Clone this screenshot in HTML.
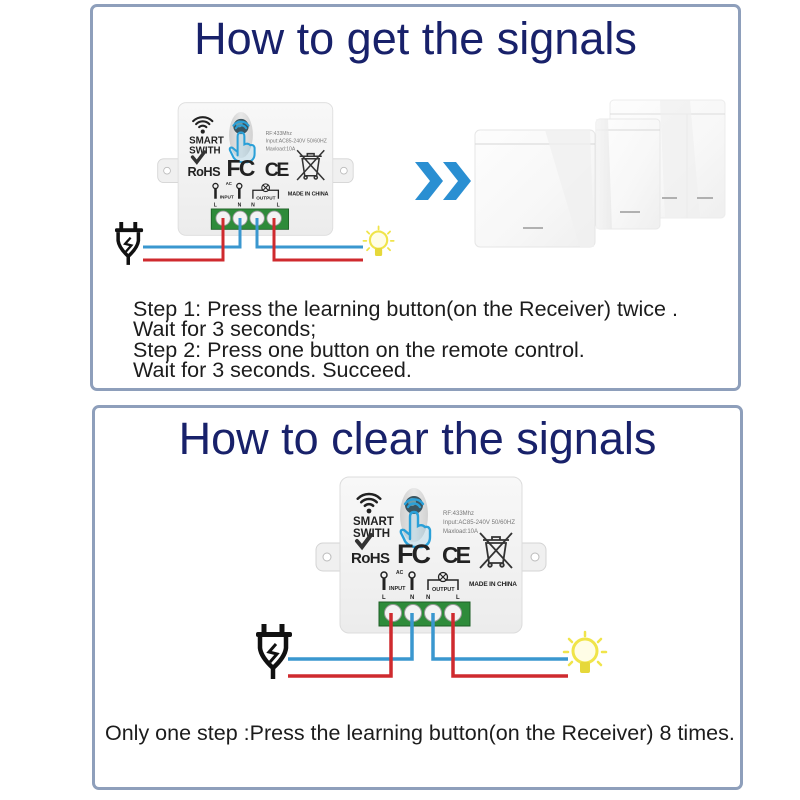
<!DOCTYPE html>
<html>
<head>
<meta charset="utf-8">
<style>
  html,body{margin:0;padding:0;background:#fff;}
  body{width:800px;height:800px;position:relative;overflow:hidden;font-family:"Liberation Sans",Arial,sans-serif;}
  .box{position:absolute;box-sizing:border-box;border:3px solid #8e9fbb;border-radius:7px;background:#fff;}
  .title{position:absolute;text-align:center;font-size:45px;line-height:45px;color:#18216a;white-space:nowrap;}
  .txt{position:absolute;font-size:21.5px;line-height:20.5px;color:#1c1c1c;white-space:nowrap;}
  svg{position:absolute;overflow:visible;}
</style>
</head>
<body>

<div class="box" style="left:90px;top:4px;width:651px;height:387px;"></div>
<div class="box" style="left:92px;top:405px;width:651px;height:385px;"></div>

<div class="title" style="left:90px;top:15.6px;width:651px;">How to get the signals</div>
<div class="title" style="left:92px;top:415.6px;width:651px;">How to clear the signals</div>

<div class="txt" style="left:133px;top:298.6px;">Step 1: Press the learning button(on the Receiver) twice .<br>Wait for 3 seconds;<br>Step 2: Press one button on the remote control.<br>Wait for 3 seconds. Succeed.</div>

<div class="txt" style="left:105px;top:722.6px;">Only one step :Press the learning button(on the Receiver) 8 times.</div>

<!-- Switch panels + chevrons -->
<svg width="800" height="800" style="left:0;top:0;">
  <defs>
    <linearGradient id="pg" x1="0" y1="0" x2="1" y2="1">
      <stop offset="0" stop-color="#fdfdfd"/>
      <stop offset="0.6" stop-color="#f7f7f7"/>
      <stop offset="1" stop-color="#efefef"/>
    </linearGradient>
    <linearGradient id="side" x1="0" y1="0" x2="1" y2="0">
      <stop offset="0" stop-color="#f4f4f4"/>
      <stop offset="1" stop-color="#e9e9e9"/>
    </linearGradient>
  </defs>
  <rect x="610" y="100" width="115" height="118" rx="4" fill="url(#pg)" stroke="#ececec"/>
  <line x1="610" y1="114" x2="725" y2="114" stroke="#dcdcdc"/>
  <line x1="687" y1="114" x2="687" y2="218" stroke="#e2e2e2"/>
  <path d="M660 100 L690 100 L700 218 L665 218 Z" fill="#f0f0f0" opacity="0.7"/>
  <line x1="662" y1="198" x2="677" y2="198" stroke="#9a9a9a" stroke-width="1.5"/>
  <line x1="697" y1="198" x2="713" y2="198" stroke="#9a9a9a" stroke-width="1.5"/>
  <rect x="596" y="119" width="64" height="110" rx="4" fill="url(#pg)" stroke="#e8e8e8"/>
  <line x1="596" y1="130" x2="660" y2="130" stroke="#d8d8d8"/>
  <path d="M596 119 L608 119 L612 229 L596 229 Z" fill="url(#side)" opacity="0.8"/>
  <line x1="620" y1="212" x2="640" y2="212" stroke="#9a9a9a" stroke-width="1.5"/>
  <rect x="475" y="130" width="120" height="117" rx="5" fill="url(#pg)" stroke="#e6e6e6"/>
  <line x1="475" y1="144" x2="595" y2="144" stroke="#d6d6d6"/>
  <path d="M545 130 L590 130 L594 247 L580 247 Z" fill="#f0f0f0" opacity="0.8"/>
  <line x1="523" y1="228" x2="543" y2="228" stroke="#9a9a9a" stroke-width="1.5"/>
  <polygon points="415,162 428,162 443,181 428,200 415,200 430,181" fill="#2a8fd2"/>
  <polygon points="443,162 456,162 471,181 456,200 443,200 458,181" fill="#2a8fd2"/>
</svg>

<!-- Device 1 -->
<svg style="left:155.9px;top:101.3px;" width="197.2" height="137.7" viewBox="-26 -2 232 162">
  <defs>
    <linearGradient id="bd1" x1="0" y1="0" x2="0" y2="1">
      <stop offset="0" stop-color="#f8f8f8"/>
      <stop offset="1" stop-color="#ececec"/>
    </linearGradient>
    <linearGradient id="bt1" x1="0" y1="0" x2="1" y2="0">
      <stop offset="0" stop-color="#cfcfcf"/>
      <stop offset="0.5" stop-color="#e8e8e8"/>
      <stop offset="1" stop-color="#d2d2d2"/>
    </linearGradient>
  </defs>
  <rect x="-24" y="66" width="32" height="28" rx="7" fill="#f0f0f0" stroke="#d4d4d4"/>
  <circle cx="-13" cy="80" r="4" fill="#fff" stroke="#bbb"/>
  <rect x="174" y="66" width="32" height="28" rx="7" fill="#f0f0f0" stroke="#d4d4d4"/>
  <circle cx="195" cy="80" r="4" fill="#fff" stroke="#bbb"/>
  <rect x="0" y="0" width="182" height="156" rx="9" fill="url(#bd1)" stroke="#dcdcdc"/>
  <g stroke="#222" stroke-width="2.5" fill="none" stroke-linecap="round">
    <path d="M24.8 28.8 A6 6 0 0 1 33.2 28.8"/>
    <path d="M21.2 25.2 A11 11 0 0 1 36.8 25.2"/>
    <path d="M17.7 21.7 A16 16 0 0 1 40.3 21.7"/>
  </g>
  <circle cx="29" cy="34" r="2.4" fill="#222"/>
  <text x="13" y="48" font-size="11.5" font-weight="bold" fill="#222" font-family="Liberation Sans, sans-serif">SMART</text>
  <text x="13" y="60" font-size="11.5" font-weight="bold" fill="#222" font-family="Liberation Sans, sans-serif">SWITH</text>
  <ellipse cx="74" cy="38" rx="14" ry="27" fill="url(#bt1)"/>
  <circle cx="74" cy="28" r="9" fill="#3b5560"/>
  <circle cx="72" cy="25" r="4" fill="#6e9aa5"/>
  <g stroke="#2aa0d8" stroke-width="2.4" fill="none" stroke-linecap="round">
    <path d="M68 30 A7 7 0 0 1 80 30"/>
    <path d="M65 27 A11 11 0 0 1 83 27"/>
    <path d="M70 62 L70 40 Q70 35 74 35 Q78 35 78 40 L78 49 Q82 47 85 50 Q89 49 90 53 L90 60 Q90 68 82 70 L74 70 Q66 68 64 62 L61 56 Q60 52 64 53 L70 58" fill="rgba(42,160,216,0.15)"/>
  </g>
  <text x="103" y="38" font-size="6" fill="#777" font-family="Liberation Sans, sans-serif">RF:433Mhz</text>
  <text x="103" y="47" font-size="6" fill="#777" font-family="Liberation Sans, sans-serif" textLength="72">Input:AC85-240V 50/60HZ</text>
  <text x="103" y="56" font-size="6" fill="#777" font-family="Liberation Sans, sans-serif">Maxload:10A</text>
  <path d="M17 64 L22 70 L31 58" stroke="#333" stroke-width="4" fill="none" stroke-linecap="round"/>
  <text x="11" y="86" font-size="15" font-weight="bold" fill="#222" font-family="Liberation Sans, sans-serif" textLength="39">RoHS</text>
  <text x="57" y="86" font-size="27" font-weight="bold" fill="#222" font-family="Liberation Sans, sans-serif" textLength="34">FC</text>
  <text x="102" y="86" font-size="23" font-weight="bold" fill="#222" font-family="Liberation Sans, sans-serif" textLength="29">CE</text>
  <g stroke="#333" stroke-width="1.8" fill="none">
    <line x1="143" y1="63" x2="169" y2="63"/>
    <path d="M152 63 L152 60 L160 60 L160 63"/>
    <path d="M146 66 L166 66 L163 86 L149 86 Z"/>
    <circle cx="150" cy="88" r="1.8"/>
    <circle cx="162" cy="88" r="1.8"/>
    <line x1="140" y1="56" x2="172" y2="91"/>
    <line x1="172" y1="56" x2="140" y2="91"/>
  </g>
  <g stroke="#222" fill="none">
    <circle cx="44" cy="98" r="3" stroke-width="1.5"/>
    <line x1="44" y1="101" x2="44" y2="113" stroke-width="3"/>
    <circle cx="72" cy="98" r="3" stroke-width="1.5"/>
    <line x1="72" y1="101" x2="72" y2="113" stroke-width="3"/>
    <path d="M88 113 L88 103 L118 103 L118 113" stroke-width="1.5"/>
    <circle cx="103" cy="100" r="4.5" fill="#f2f2f2" stroke-width="1.3"/>
    <path d="M100 97 L106 103 M106 97 L100 103" stroke-width="1.2"/>
  </g>
  <g font-family="Liberation Sans, sans-serif" font-weight="bold" fill="#222">
    <text x="56" y="97" font-size="5">AC</text>
    <text x="49" y="113" font-size="5.5">INPUT</text>
    <text x="42" y="122" font-size="6">L</text>
    <text x="70" y="122" font-size="6">N</text>
    <text x="92" y="114" font-size="5.5">OUTPUT</text>
    <text x="86" y="122" font-size="6">N</text>
    <text x="116" y="122" font-size="6">L</text>
    <text x="129" y="109" font-size="6.5" textLength="48">MADE IN CHINA</text>
  </g>
  <rect x="39" y="125" width="91" height="24" fill="#2e8b3a" stroke="#1d5e26"/>
  <g fill="#f3f3f3" stroke="#999" stroke-width="1">
    <circle cx="53" cy="136" r="8.5"/>
    <circle cx="73" cy="136" r="8.5"/>
    <circle cx="93" cy="136" r="8.5"/>
    <circle cx="113" cy="136" r="8.5"/>
  </g>
</svg>

<!-- Device 2 -->
<svg style="left:314px;top:475px;" width="232" height="162" viewBox="-26 -2 232 162">
  <defs>
    <linearGradient id="bd2" x1="0" y1="0" x2="0" y2="1">
      <stop offset="0" stop-color="#f8f8f8"/>
      <stop offset="1" stop-color="#ececec"/>
    </linearGradient>
    <linearGradient id="bt2" x1="0" y1="0" x2="1" y2="0">
      <stop offset="0" stop-color="#cfcfcf"/>
      <stop offset="0.5" stop-color="#e8e8e8"/>
      <stop offset="1" stop-color="#d2d2d2"/>
    </linearGradient>
  </defs>
  <rect x="-24" y="66" width="32" height="28" rx="7" fill="#f0f0f0" stroke="#d4d4d4"/>
  <circle cx="-13" cy="80" r="4" fill="#fff" stroke="#bbb"/>
  <rect x="174" y="66" width="32" height="28" rx="7" fill="#f0f0f0" stroke="#d4d4d4"/>
  <circle cx="195" cy="80" r="4" fill="#fff" stroke="#bbb"/>
  <rect x="0" y="0" width="182" height="156" rx="9" fill="url(#bd2)" stroke="#dcdcdc"/>
  <g stroke="#222" stroke-width="2.5" fill="none" stroke-linecap="round">
    <path d="M24.8 28.8 A6 6 0 0 1 33.2 28.8"/>
    <path d="M21.2 25.2 A11 11 0 0 1 36.8 25.2"/>
    <path d="M17.7 21.7 A16 16 0 0 1 40.3 21.7"/>
  </g>
  <circle cx="29" cy="34" r="2.4" fill="#222"/>
  <text x="13" y="48" font-size="11.5" font-weight="bold" fill="#222" font-family="Liberation Sans, sans-serif">SMART</text>
  <text x="13" y="60" font-size="11.5" font-weight="bold" fill="#222" font-family="Liberation Sans, sans-serif">SWITH</text>
  <ellipse cx="74" cy="38" rx="14" ry="27" fill="url(#bt2)"/>
  <circle cx="74" cy="28" r="9" fill="#3b5560"/>
  <circle cx="72" cy="25" r="4" fill="#6e9aa5"/>
  <g stroke="#2aa0d8" stroke-width="2.4" fill="none" stroke-linecap="round">
    <path d="M68 30 A7 7 0 0 1 80 30"/>
    <path d="M65 27 A11 11 0 0 1 83 27"/>
    <path d="M70 62 L70 40 Q70 35 74 35 Q78 35 78 40 L78 49 Q82 47 85 50 Q89 49 90 53 L90 60 Q90 68 82 70 L74 70 Q66 68 64 62 L61 56 Q60 52 64 53 L70 58" fill="rgba(42,160,216,0.15)"/>
  </g>
  <text x="103" y="38" font-size="6" fill="#777" font-family="Liberation Sans, sans-serif">RF:433Mhz</text>
  <text x="103" y="47" font-size="6" fill="#777" font-family="Liberation Sans, sans-serif" textLength="72">Input:AC85-240V 50/60HZ</text>
  <text x="103" y="56" font-size="6" fill="#777" font-family="Liberation Sans, sans-serif">Maxload:10A</text>
  <path d="M17 64 L22 70 L31 58" stroke="#333" stroke-width="4" fill="none" stroke-linecap="round"/>
  <text x="11" y="86" font-size="15" font-weight="bold" fill="#222" font-family="Liberation Sans, sans-serif" textLength="39">RoHS</text>
  <text x="57" y="86" font-size="27" font-weight="bold" fill="#222" font-family="Liberation Sans, sans-serif" textLength="34">FC</text>
  <text x="102" y="86" font-size="23" font-weight="bold" fill="#222" font-family="Liberation Sans, sans-serif" textLength="29">CE</text>
  <g stroke="#333" stroke-width="1.8" fill="none">
    <line x1="143" y1="63" x2="169" y2="63"/>
    <path d="M152 63 L152 60 L160 60 L160 63"/>
    <path d="M146 66 L166 66 L163 86 L149 86 Z"/>
    <circle cx="150" cy="88" r="1.8"/>
    <circle cx="162" cy="88" r="1.8"/>
    <line x1="140" y1="56" x2="172" y2="91"/>
    <line x1="172" y1="56" x2="140" y2="91"/>
  </g>
  <g stroke="#222" fill="none">
    <circle cx="44" cy="98" r="3" stroke-width="1.5"/>
    <line x1="44" y1="101" x2="44" y2="113" stroke-width="3"/>
    <circle cx="72" cy="98" r="3" stroke-width="1.5"/>
    <line x1="72" y1="101" x2="72" y2="113" stroke-width="3"/>
    <path d="M88 113 L88 103 L118 103 L118 113" stroke-width="1.5"/>
    <circle cx="103" cy="100" r="4.5" fill="#f2f2f2" stroke-width="1.3"/>
    <path d="M100 97 L106 103 M106 97 L100 103" stroke-width="1.2"/>
  </g>
  <g font-family="Liberation Sans, sans-serif" font-weight="bold" fill="#222">
    <text x="56" y="97" font-size="5">AC</text>
    <text x="49" y="113" font-size="5.5">INPUT</text>
    <text x="42" y="122" font-size="6">L</text>
    <text x="70" y="122" font-size="6">N</text>
    <text x="92" y="114" font-size="5.5">OUTPUT</text>
    <text x="86" y="122" font-size="6">N</text>
    <text x="116" y="122" font-size="6">L</text>
    <text x="129" y="109" font-size="6.5" textLength="48">MADE IN CHINA</text>
  </g>
  <rect x="39" y="125" width="91" height="24" fill="#2e8b3a" stroke="#1d5e26"/>
  <g fill="#f3f3f3" stroke="#999" stroke-width="1">
    <circle cx="53" cy="136" r="8.5"/>
    <circle cx="73" cy="136" r="8.5"/>
    <circle cx="93" cy="136" r="8.5"/>
    <circle cx="113" cy="136" r="8.5"/>
  </g>
</svg>

<!-- Wires, plugs, bulbs -->
<svg width="800" height="800" style="left:0;top:0;">
  <g fill="none" stroke-width="3">
    <path d="M240 218 V247 H143" stroke="#3a97cf"/>
    <path d="M257 218 V247 H363" stroke="#3a97cf"/>
    <path d="M223 218 V260 H143" stroke="#cf2a2e"/>
    <path d="M274 218 V260 H363" stroke="#cf2a2e"/>
  </g>
  <g fill="none" stroke-width="3.5">
    <path d="M412 613 V659 H288" stroke="#3a97cf"/>
    <path d="M433 613 V659 H568" stroke="#3a97cf"/>
    <path d="M391 613 V676 H288" stroke="#cf2a2e"/>
    <path d="M453 613 V676 H568" stroke="#cf2a2e"/>
  </g>

  <g>
    <rect x="261.5" y="624" width="5" height="10" fill="#111"/>
    <rect x="279.5" y="624" width="5" height="10" fill="#111"/>
    <rect x="256" y="632" width="36" height="5" rx="2" fill="#111"/>
    <path d="M260 637 L260 648 Q261 657 273 668 Q285 657 286 648 L286 637" stroke="#111" stroke-width="4.5" fill="none"/>
    <line x1="273" y1="666" x2="273" y2="679" stroke="#111" stroke-width="4.5"/>
    <path d="M276 644 L269 652 L277 654 L270 662" stroke="#111" stroke-width="3" fill="none"/>
  </g>
  <g transform="translate(115,222) scale(0.78) translate(-256,-624)">
    <rect x="261.5" y="624" width="5" height="10" fill="#111"/>
    <rect x="279.5" y="624" width="5" height="10" fill="#111"/>
    <rect x="256" y="632" width="36" height="5" rx="2" fill="#111"/>
    <path d="M260 637 L260 648 Q261 657 273 668 Q285 657 286 648 L286 637" stroke="#111" stroke-width="4.5" fill="none"/>
    <line x1="273" y1="666" x2="273" y2="679" stroke="#111" stroke-width="4.5"/>
    <path d="M276 644 L269 652 L277 654 L270 662" stroke="#111" stroke-width="3" fill="none"/>
  </g>

  <g>
    <circle cx="585" cy="651" r="12" fill="#fffde6" stroke="#f0e44a" stroke-width="3"/>
    <rect x="580" y="662" width="10" height="11" rx="2" fill="#e6d83a"/>
    <g stroke="#f0e44a" stroke-width="2.5" stroke-linecap="round">
      <line x1="585" y1="632" x2="585" y2="636"/>
      <line x1="569" y1="639" x2="572" y2="642"/>
      <line x1="601" y1="639" x2="598" y2="642"/>
      <line x1="564" y1="652" x2="568" y2="652"/>
      <line x1="602" y1="652" x2="606" y2="652"/>
      <line x1="569" y1="665" x2="572" y2="662"/>
      <line x1="601" y1="665" x2="598" y2="662"/>
    </g>
  </g>
  <g transform="translate(362,225) scale(0.72) translate(-562,-630)">
    <circle cx="585" cy="651" r="12" fill="#fffde6" stroke="#f0e44a" stroke-width="3"/>
    <rect x="580" y="662" width="10" height="11" rx="2" fill="#e6d83a"/>
    <g stroke="#f0e44a" stroke-width="2.5" stroke-linecap="round">
      <line x1="585" y1="632" x2="585" y2="636"/>
      <line x1="569" y1="639" x2="572" y2="642"/>
      <line x1="601" y1="639" x2="598" y2="642"/>
      <line x1="564" y1="652" x2="568" y2="652"/>
      <line x1="602" y1="652" x2="606" y2="652"/>
      <line x1="569" y1="665" x2="572" y2="662"/>
      <line x1="601" y1="665" x2="598" y2="662"/>
    </g>
  </g>
</svg>

</body>
</html>
